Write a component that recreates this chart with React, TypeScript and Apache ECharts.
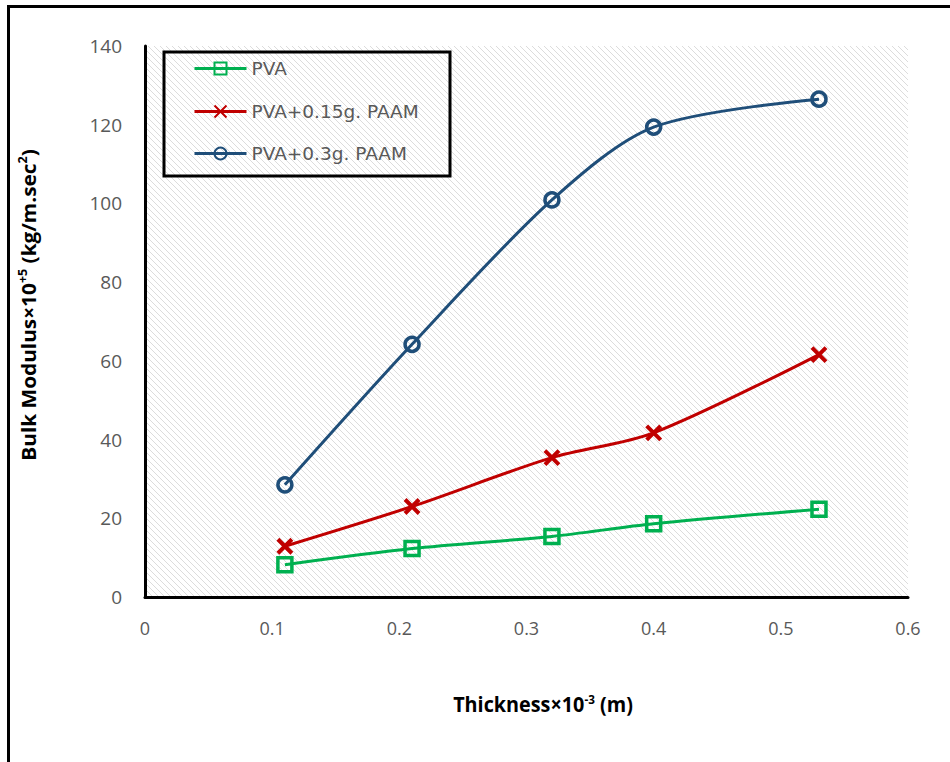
import React, { useEffect, useRef } from "react";
import * as echarts from "echarts";

const xValues = [0.11, 0.21, 0.32, 0.4, 0.53];
const pvaValues = [8.2, 12.3, 15.4, 18.6, 22.3];
const paam015Values = [12.9, 23.0, 35.4, 41.7, 61.6];
const paam03Values = [28.5, 64.2, 100.9, 119.4, 126.5];
const seriesNames = ["PVA", "PVA+0.15g. PAAM", "PVA+0.3g. PAAM"];
const seriesColors = ["#00B050", "#C00000", "#1F4E79"];

const GRID = { left: 145, top: 46, width: 763, height: 551 };

function makeHatch(): HTMLCanvasElement {
  const c = document.createElement("canvas");
  c.width = 6;
  c.height = 6;
  const ctx = c.getContext("2d")!;
  ctx.strokeStyle = "#dcdcdc";
  ctx.lineWidth = 1.0;
  ctx.beginPath();
  ctx.moveTo(-1, -1);
  ctx.lineTo(7, 7);
  ctx.moveTo(-1, 5);
  ctx.lineTo(1, 7);
  ctx.moveTo(5, -1);
  ctx.lineTo(7, 1);
  ctx.stroke();
  return c;
}

export default function App() {
  const ref = useRef<HTMLDivElement>(null);
  useEffect(() => {
    if (!ref.current) return;
    const chart = echarts.init(ref.current, undefined, { renderer: "svg" });
    const hatch = makeHatch();
    const pair = (ys: number[]) => xValues.map((x, i) => [x, ys[i]]);
    const legendTops = [59, 102, 144];
    const labelColor = "#595959";
    const option: any = {
      animation: false,
      backgroundColor: "#ffffff",
      grid: { left: GRID.left, top: GRID.top, width: GRID.width, height: GRID.height, containLabel: false },
      xAxis: {
        type: "value",
        min: 0,
        max: 0.6,
        interval: 0.1,
        axisLine: { show: true, lineStyle: { color: "#000", width: 3 } },
        axisTick: { show: false },
        splitLine: { show: false },
        axisLabel: {
          color: labelColor,
          fontSize: 18,
          fontFamily: "Open Sans, sans-serif",
          margin: 22,
          formatter: (v: number) => (v === 0 ? "0" : String(Math.round(v * 10) / 10)),
        },
      },
      yAxis: {
        type: "value",
        min: 0,
        max: 140,
        interval: 20,
        axisLine: { show: true, lineStyle: { color: "#000", width: 3 } },
        axisTick: { show: false },
        splitLine: { show: false },
        axisLabel: { color: labelColor, fontSize: 19, fontFamily: "Open Sans, sans-serif", margin: 23 },
      },
      legend: seriesNames.map((n, i) => ({
        data: [n],
        left: 193,
        top: legendTops[i],
        padding: 0,
        itemWidth: 52,
        itemHeight: 15,
        lineStyle: { width: 3 },
        textStyle: { color: labelColor, fontSize: 18.5, fontFamily: "DejaVu Sans, sans-serif" },
      })),
      graphic: [
        {
          type: "rect",
          z: -10,
          silent: true,
          shape: { x: GRID.left, y: GRID.top, width: GRID.width, height: GRID.height },
          style: { fill: { image: hatch, repeat: "repeat" } as any, stroke: "none" },
        },
        {
          type: "rect",
          z: 50,
          silent: true,
          shape: { x: 164, y: 52, width: 286, height: 124 },
          style: { fill: "none", stroke: "#000", lineWidth: 3 },
        },
        {
          type: "rect",
          z: 50,
          silent: true,
          shape: { x: 8.5, y: 6.5, width: 1200, height: 1200 },
          style: { fill: "none", stroke: "#000", lineWidth: 3 },
        },
        {
          type: "text",
          z: 50,
          x: 28,
          y: 305,
          rotation: Math.PI / 2,
          scaleX: 1.04,
          style: {
            text: "{b|Bulk Modulus×10}{s|+5}{b| (kg/m.sec}{s|2}{b|)}",
            align: "center",
            verticalAlign: "middle",
            rich: {
              b: { fontSize: 20, fontWeight: "bold", fontFamily: "Open Sans, sans-serif", fill: "#000" },
              s: { fontSize: 12, fontWeight: "bold", fontFamily: "Open Sans, sans-serif", fill: "#000", padding: [0, 0, 10, 0] },
            },
          },
        },
        {
          type: "text",
          z: 50,
          x: 543,
          y: 704,
          scaleX: 0.9,
          style: {
            text: "{b|Thickness×10}{s|-3}{b| (m)}",
            align: "center",
            verticalAlign: "middle",
            rich: {
              b: { fontSize: 22, fontWeight: "bold", fontFamily: "Open Sans, sans-serif", fill: "#000" },
              s: { fontSize: 13, fontWeight: "bold", fontFamily: "Open Sans, sans-serif", fill: "#000", padding: [0, 0, 10, 0] },
            },
          },
        },
      ],
      series: [
        {
          name: seriesNames[0],
          type: "line",
          smooth: 0.3,
          data: pair(pvaValues),
          symbol: "rect",
          symbolSize: 14,
          lineStyle: { color: seriesColors[0], width: 3 },
          itemStyle: { color: "rgba(0,0,0,0)", borderColor: seriesColors[0], borderWidth: 3.5 },
        },
        {
          name: seriesNames[1],
          type: "line",
          smooth: 0.3,
          data: pair(paam015Values),
          symbol: "path://M0,0L10,10M10,0L0,10",
          symbolSize: 14,
          lineStyle: { color: seriesColors[1], width: 3 },
          itemStyle: { color: seriesColors[1], borderColor: seriesColors[1], borderWidth: 4 },
        },
        {
          name: seriesNames[2],
          type: "line",
          smooth: 0.3,
          data: pair(paam03Values),
          symbol: "circle",
          symbolSize: 14,
          lineStyle: { color: seriesColors[2], width: 3 },
          itemStyle: { color: "rgba(0,0,0,0)", borderColor: seriesColors[2], borderWidth: 3.5 },
        },
      ],
    };
    chart.setOption(option);
    return () => chart.dispose();
  }, []);
  return (
    <div
      ref={ref}
      style={{ position: "fixed", left: 0, top: 0, width: 950, height: 762 }}
    />
  );
}
